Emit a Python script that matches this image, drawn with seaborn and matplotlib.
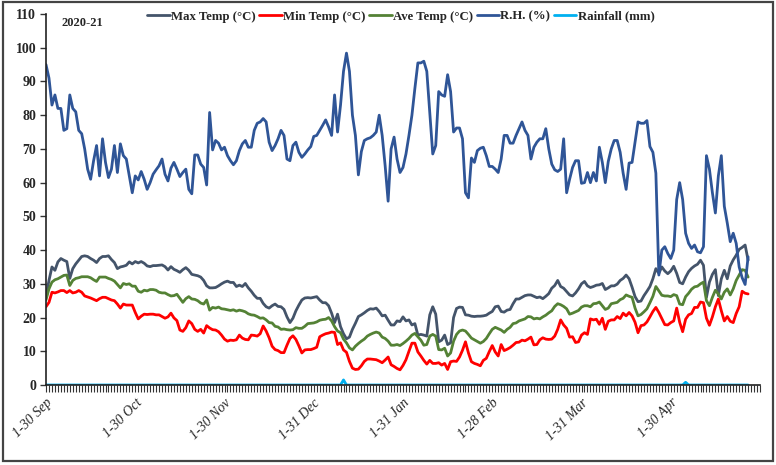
import numpy as np
import pandas as pd
import seaborn as sns
import matplotlib.pyplot as plt
from matplotlib.patches import Rectangle

# daily weather, 1 Sep 2020 onwards (one value per day)
rh = [95, 91, 83, 86, 82, 82, 75.5, 76, 86, 82,
      81, 75.5, 74.5, 70, 64, 61, 66.5, 71, 62, 73,
      66, 61.5, 64, 71, 63, 71.5, 68, 67, 62, 57,
      62, 60.8, 63.3, 61, 58, 60, 62.5, 63.8, 65, 67,
      62.5, 60.5, 64.3, 66, 64, 61.8, 63, 64, 58, 56.7,
      68.2, 68.2, 65.5, 64.5, 59.3, 80.8, 69.7, 72.5, 71.7, 69.7,
      70.5, 68, 66.5, 65.3, 66.5, 69.5, 71.5, 72.5, 70.5, 70.5,
      75.5, 77.6, 78, 79, 78, 72, 69.5, 71, 73, 75.5,
      74, 67, 66.5, 71, 72, 69, 67.5, 68.5, 69.7, 70.7,
      73.7, 74, 75.5, 77, 78.6, 76.5, 74, 86, 75, 83,
      93, 98.4, 93, 80, 74, 62.3, 69.2, 72.5, 73, 73.3,
      74, 75, 80, 74, 65, 54.5, 70, 73.5, 67, 63,
      64.5, 68.5, 74, 80, 88, 95.5, 95.5, 96, 93, 80.6,
      68.5, 71, 87, 86, 85.6, 92, 87, 75, 76.2, 76.2,
      73, 57, 55.5, 67.3, 66, 69.5, 70.2, 70.5, 68, 64.8,
      64.8, 64, 63, 67, 74, 74, 71.7, 71.7, 74, 76,
      78, 75.5, 74, 67, 70.5, 72, 73, 73, 76, 70,
      65.5, 63.8, 63.3, 64, 73, 57, 61, 64.5, 66.5, 66.5,
      59.8, 60, 63, 60, 63, 60.5, 70.5, 66, 60, 66.3,
      70, 72.5, 72.5, 69, 62.8, 58, 65.8, 66, 72, 78,
      77.6, 77.6, 78.4, 70.7, 69, 62.8, 32.6, 40, 41, 39,
      37.5, 40, 55, 60, 55, 45, 42, 40.5, 41.5, 39.5,
      39.2, 41, 68, 64, 57, 51, 62, 68, 53, 48,
      42.5, 45, 42, 35, 31.8, 29.8, 38]

max_temp = [26.2, 31, 35, 34, 36.5, 37.5, 37, 36.6, 31.6, 34.5,
            35.9, 37, 38.1, 38.3, 38.1, 37.5, 37, 36.3, 37.5, 38.1,
            38.1, 38.3, 37.2, 36.3, 34.5, 35, 35.2, 35.5, 36.5, 35.9,
            36.6, 36.2, 36.6, 36.1, 35.3, 35.1, 35.4, 35.4, 35.5, 35.6,
            35.1, 34.1, 35.1, 34.3, 33.9, 33.4, 34.2, 34.8, 34, 32.8,
            32.6, 32.4, 32, 31, 29.4, 28.8, 28.8, 28.9, 29.4, 30,
            30.5, 30.8, 30.4, 30.4, 29.2, 29.6, 29.2, 30.1, 28.8, 27.8,
            26.6, 25.7, 25.7, 24.2, 23.2, 22.8, 23.5, 24, 23.3, 23.2,
            22.4, 20.2, 18.5, 19.8, 22, 23.7, 25.2, 25.8, 25.9, 25.8,
            26, 26.2, 25.2, 24.4, 24.4, 23.5, 21.3, 18.5, 21, 17.3,
            15.2, 13.7, 14.2, 16.5, 18.3, 20.3, 20.8, 21.4, 22.1, 22.6,
            22.5, 22.8, 21.8, 20.5, 20.7, 19.2, 17.8, 17.8, 19, 18.8,
            20.2, 19, 19.3, 17.8, 18.2, 14.8, 15, 14.8, 14.5, 20.8,
            23.2, 21, 12.8, 13.3, 14.8, 12, 12.5, 20, 22.7, 23.1,
            23, 20.8, 20.7, 20.4, 20.3, 20.4, 20.4, 20.5, 20.7, 21.3,
            21.8, 23.2, 23.4, 21.8, 21.6, 22.2, 22.4, 24.1, 25.5, 25.5,
            26, 26.5, 26.7, 26.7, 26.3, 25.9, 26.1, 25.6, 26.3, 27.1,
            28.7, 29.5, 31, 29.2, 28.7, 27.7, 26.7, 26.4, 27.3, 28.5,
            30, 30.7, 29.4, 28.9, 29.2, 29.6, 29.7, 30.1, 28.3, 28.8,
            29.4, 29.4, 29.9, 31, 31.6, 32.6, 31.5, 29, 26.2, 24.7,
            24.9, 26.5, 27.8, 29.2, 31.5, 34.5, 33.1, 35, 33.8, 33,
            33.8, 35.2, 33.1, 30.4, 30, 32, 33.6, 34.6, 35.3, 35.8,
            37, 35.5, 26, 30.5, 32.8, 34.2, 26.5, 31.5, 34, 31.5,
            35.3, 37.1, 38.5, 40.2, 40.8, 41.5, 37]

min_temp = [23.2, 24.5, 27.5, 27.3, 27.6, 28, 28, 27.4, 28, 27.3,
            27.5, 28, 27.5, 26.4, 26.1, 25.8, 25.4, 25, 25.6, 26,
            26, 25.6, 25.2, 25, 24, 22.8, 24, 23.7, 23.7, 23.7,
            21.5, 19.6, 20.4, 21, 20.9, 21, 21, 20.8, 20.8, 20.3,
            19.8, 20.2, 21.3, 19.9, 19.1, 16.3, 15.9, 17, 19, 18.2,
            16.5, 15.9, 16.5, 15.4, 17.6, 16.9, 16.4, 16.3, 15.8, 14.8,
            13.6, 13, 13.3, 13.2, 13.4, 14.8, 13.9, 13.5, 13.4, 14.8,
            14.7, 14.5, 15.2, 17.5, 16, 14, 11.5, 10.5, 10.2, 9.6,
            9.6, 11.8, 13.8, 14.6, 13.5, 11.6, 9.5, 10.4, 10.5, 10.5,
            10.8, 11.2, 14.3, 14.8, 15.2, 15.4, 15.7, 15.6, 12, 12.5,
            10.4, 9.7, 7, 5, 4.6, 4.7, 5.7, 7, 7.7, 7.7,
            7.6, 7.5, 7.1, 6.6, 7.4, 8.3, 6, 5.5, 4.9, 4.5,
            5.8, 7.5, 10, 12.4, 12.4, 9.8, 8.6, 7.3, 6.2, 7.3,
            6.4, 6.4, 6.6, 5.9, 6.4, 4.6, 6.9, 7.1, 7, 8.3,
            10.3, 12.8, 9.5, 6.9, 6.4, 6.1, 5.7, 7.3, 7.9, 9.9,
            11.7, 9.8, 8.6, 12, 10.2, 10.6, 11.1, 11.8, 12.6, 12.7,
            13.3, 13.1, 13.6, 14.2, 11.9, 12, 13.4, 14, 13.6, 13.5,
            13.6, 14.5, 16.5, 19.3, 17.8, 16.8, 14.2, 14.3, 12.6, 12.8,
            14.8, 15.5, 15, 19.6, 19.3, 19.5, 18, 19.8, 16.5, 18.9,
            19.3, 19.3, 20.3, 19.7, 21.3, 20.5, 21.5, 20.5, 18.6, 15.5,
            17.6, 17.8, 18.7, 20.2, 21.8, 23, 21.5, 19.7, 17.9, 17.8,
            18.5, 19, 22.8, 18.6, 15.8, 19.5, 20.8, 21.2, 23, 23,
            24.6, 24.4, 19.8, 17.7, 20.2, 23.2, 25.5, 22, 19, 20.3,
            18.9, 18.5, 21.2, 23.2, 27.8, 27.2, 27]

ave_temp = [25.2, 28.5, 30.5, 31.2, 31.5, 32, 32.5, 32.6, 29.5, 31,
            31.6, 31.8, 32.1, 32.1, 32.1, 31.8, 31.2, 30.7, 32, 32,
            32, 31.6, 31.3, 30.8, 29.8, 28.8, 30.1, 29.8, 30, 29.3,
            29.3, 27.8, 27.5, 28.1, 27.9, 28.3, 28.3, 28.1, 27.5, 27.3,
            27.3, 26.8, 26.4, 26.5, 26.9, 25.7, 24.5, 25.6, 26.2, 25.5,
            25.4, 25, 24.3, 24, 25.2, 22.2, 23, 22.8, 23.1, 22.6,
            22.5, 22.3, 22.1, 22.3, 21.9, 22.2, 22, 21.7, 21.1, 20.8,
            20.7, 20.3, 19.8, 19.9, 19.3, 18.5, 18.4, 17.4, 17.2, 16.5,
            16.6, 16.4, 16.3, 16.4, 17, 16.8, 16.8, 17.4, 18.2, 18.3,
            18.4, 18.7, 19.2, 19.4, 19.5, 20, 19, 17.3, 16, 15.5,
            13.6, 12.5, 11, 10.4, 11.5, 12.3, 13, 13.6, 14.5, 15,
            15.4, 15.7, 15.4, 14.2, 13.8, 13, 11.8, 11.8, 12, 11.7,
            12.3, 13, 13.8, 14.8, 15.3, 14.3, 13.3, 11.8, 12, 14.5,
            15, 14.5, 10.5, 10.4, 10.9, 8.6, 9.5, 13, 15, 16,
            16.3, 16, 15, 13.9, 13.4, 12.9, 12.4, 12.9, 13.8, 15.2,
            16.5, 17.1, 16.7, 16.3, 15.6, 16.5, 17.1, 18.2, 18.4, 19,
            19.3, 19.6, 20.3, 20.2, 19.6, 19.8, 19.6, 20.2, 20.7, 21.4,
            22, 23.3, 24.1, 23.8, 23.3, 22.6, 21, 21.3, 21.7, 22.1,
            23.1, 23.5, 23.5, 23.2, 24.1, 24.2, 24.6, 23.5, 22.4, 22.8,
            24.1, 24.3, 24.5, 25.3, 25.7, 26.7, 26.3, 26, 22.8, 20.5,
            20.9, 21.7, 22.6, 24.4, 26.3, 29.2, 27.9, 26.6, 26.4, 26.4,
            26.2, 26.8, 26.5, 24, 23.8, 26.2, 27.2, 28.4, 29.1, 29.3,
            30, 30.5, 25, 23.5, 26, 28.1, 27, 25.5, 27.5, 28.5,
            26.7, 28.5, 31, 32.6, 34.2, 34, 32]

# rainfall is nil except on two days
rain_days = {100: 1.5, 215: 0.8}
rainfall = [rain_days.get(d, 0.0) for d in range(len(rh))]

month_labels = ["1-30 Sep", "1-30 Oct", "1-30 Nov", "1-31 Dec",
                "1-31 Jan", "1-28 Feb", "1-31 Mar", "1-30 Apr"]

names = ["Max Temp (\u00b0C)", "Min Temp (\u00b0C)", "Ave Temp (\u00b0C)",
         "R.H. (%)", "Rainfall (mm)"]
colors = ["#44546A", "#FF0000", "#548235", "#2F5597", "#00B0F0"]

day = np.arange(len(rh))
frames = []
for nm, vals in zip(names, [max_temp, min_temp, ave_temp, rh, rainfall]):
    frames.append(pd.DataFrame({"day": day, "value": vals, "series": nm}))
df = pd.concat(frames, ignore_index=True)

sns.set_theme(style="white")
plt.rcParams["font.family"] = ["Liberation Serif", "DejaVu Serif"]

fig = plt.figure(figsize=(7.76, 4.65), dpi=100)
ax = fig.add_axes([46/776, 1-385/465, 714/776, 371/465])

sns.lineplot(data=df, x="day", y="value", hue="series", hue_order=names,
             palette=colors, linewidth=2.0, ax=ax, legend=True)

ax.set_xlim(0, 240)
ax.set_ylim(0, 110)
ax.set_yticks(np.arange(0, 111, 10))
ax.set_xticks(np.arange(0, 240, 30))
ax.set_xticks(np.arange(0, 241, 1), minor=True)
ax.set_xticklabels(month_labels, rotation=45, ha="right",
                   rotation_mode="anchor", fontstyle="italic", fontsize=10)
for lb in ax.get_yticklabels():
    lb.set_fontweight("bold")
    lb.set_fontsize(10)
ax.set_xlabel("")
ax.set_ylabel("")
ax.tick_params(axis="x", which="both", direction="out", length=5,
               width=0.8, color="#333333", bottom=True, pad=3)
ax.tick_params(axis="y", direction="out", length=4, width=1,
               color="#333333", left=True, pad=3)

for s in ["top", "right"]:
    ax.spines[s].set_visible(False)
for s in ["left", "bottom"]:
    ax.spines[s].set_color("#222222")
    ax.spines[s].set_linewidth(1.2)

sns.move_legend(ax, "upper center", bbox_to_anchor=(0.497, 1.04), ncol=5,
                frameon=False, title=None, handlelength=1.75,
                handletextpad=0.1, columnspacing=0.3,
                prop={"weight": "bold", "size": 9.2})

fig.text(62/776, 1-23/465, "2020-21", fontsize=9, fontweight="bold",
         ha="left", va="center")

fig.patches.append(Rectangle((0.004, 0.008), 0.992, 0.988,
                             transform=fig.transFigure, fill=False,
                             edgecolor="#444444", linewidth=1.6))

fig.savefig("out.png", dpi=100)
